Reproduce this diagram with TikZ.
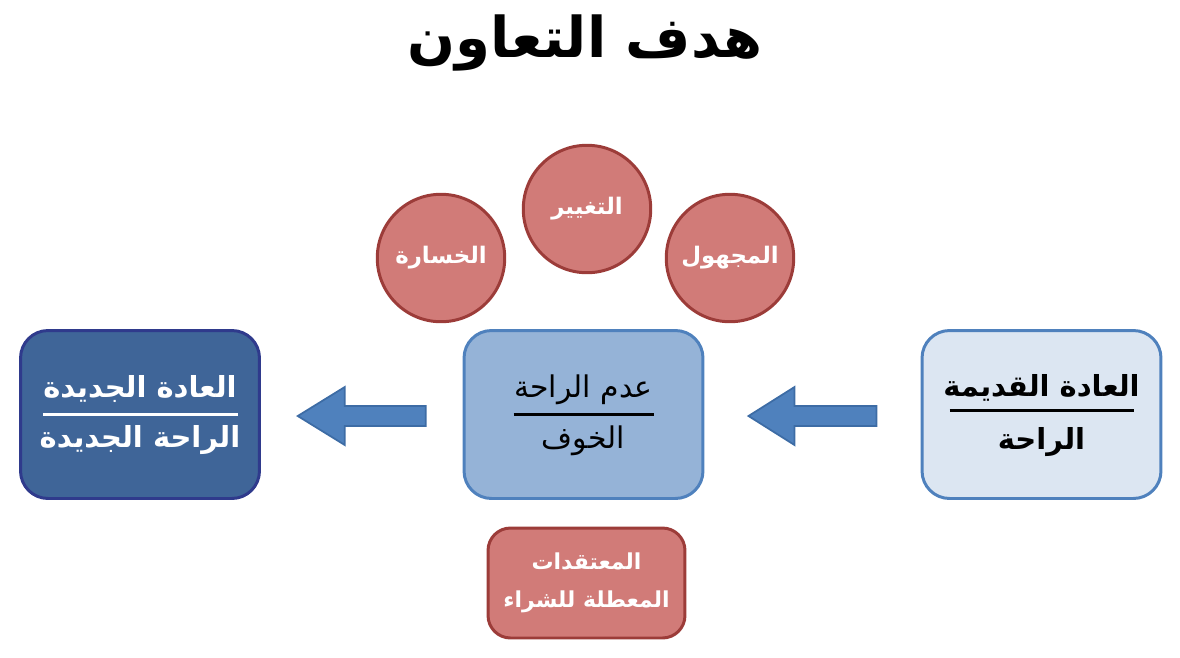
\documentclass[tikz,border=0pt]{standalone}
\usepackage{fontspec}
\newfontfamily\arabicfont[Script=Arabic]{DejaVu Sans}
\TeXXeTstate=1
\usetikzlibrary{calc,positioning}

\definecolor{fearfill}{HTML}{D17B78}
\definecolor{feardraw}{HTML}{9C3C39}
\definecolor{newfill}{HTML}{3F6598}
\definecolor{newdraw}{HTML}{2F3A8C}
\definecolor{midfill}{HTML}{95B3D7}
\definecolor{oldfill}{HTML}{DCE6F2}
\definecolor{bluedraw}{HTML}{4F81BD}
\definecolor{arrowfill}{HTML}{4F81BD}
\definecolor{arrowdraw}{HTML}{3D6CA5}

\tikzset{
  fear/.style={circle, draw=feardraw, fill=fearfill, line width=1.7pt,
    minimum size=2.55cm, inner sep=0pt, text=white,
    font=\arabicfont\bfseries\fontsize{13}{16}\selectfont},
  habit/.style={rounded corners=0.55cm, line width=1.7pt,
    minimum width=4.78cm, minimum height=3.36cm},
  boxtext/.style={font=\arabicfont\bfseries\fontsize{16.5}{20}\selectfont},
  blockarrow/.style={draw=arrowdraw, fill=arrowfill, line width=1pt, line join=miter},
}

\begin{document}
\begin{tikzpicture}[x=0.02cm, y=-0.02cm, line join=round]
  \useasboundingbox (0,0) rectangle (1180,657);

  \node[font=\arabicfont\bfseries\fontsize{32}{36}\selectfont] (title) at (585,43) {\beginR هدف التعاون\endR};

  % the three fears
  \node[fear] (loss) at (441,258) {\beginR الخسارة\endR};
  \node[fear] (change) at (587,209) {\beginR التغيير\endR};
  \node[fear] (unknown) at (730,258) {\beginR المجهول\endR};

  % habits
  \node[habit, draw=newdraw, fill=newfill] (new) at (140,414.5) {};
  \node[habit, draw=bluedraw, fill=midfill] (mid) at (583.5,414.5) {};
  \node[habit, draw=bluedraw, fill=oldfill] (old) at (1041.5,414.5) {};

  \node[boxtext, text=white] (newa) at ($(new)+(0,-26)$) {\beginR العادة الجديدة\endR};
  \draw[white, line width=1.2pt] ($(new)+(-97,0)$) -- ($(new)+(98,0)$);
  \node[boxtext, text=white] (newb) at ($(new)+(0,26)$) {\beginR الراحة الجديدة\endR};

  \node[boxtext, font=\arabicfont\fontsize{17}{20}\selectfont] (mida) at ($(mid)+(0,-25)$) {\beginR عدم الراحة\endR};
  \draw[line width=1.2pt] ($(mid)+(-70,0)$) -- ($(mid)+(70,0)$);
  \node[boxtext, font=\arabicfont\fontsize{17}{20}\selectfont] (midb) at ($(mid)+(0,26)$) {\beginR الخوف\endR};

  \node[boxtext] (olda) at ($(old)+(0,-27)$) {\beginR العادة القديمة\endR};
  \draw[line width=1.2pt] ($(old)+(-92,-4)$) -- ($(old)+(92,-4)$);
  \node[boxtext] (oldb) at ($(old)+(0,28)$) {\beginR الراحة\endR};

  % beliefs
  \node[draw=feardraw, fill=fearfill, line width=1.7pt, rounded corners=0.45cm,
    minimum width=3.94cm, minimum height=2.2cm, align=center, text=white,
    font=\arabicfont\bfseries\fontsize{12.5}{21.5}\selectfont] (belief) at (586.5,583)
    {\beginR المعتقدات\endR\\\beginR المعطلة للشراء\endR};

  % arrows
  \coordinate (a1) at ($(new.east)!0.5!(mid.west)+(0,1.5)$);
  \coordinate (a2) at ($(mid.east)!0.5!(old.west)+(0,1.5)$);
  \draw[blockarrow, shift={(a1)}] (64,-10) -- (-17,-10) -- (-17,-29) -- (-64,0)
    -- (-17,29) -- (-17,10) -- (64,10) -- cycle;
  \draw[blockarrow, shift={(a2)}] (64,-10) -- (-18,-10) -- (-18,-29) -- (-64,0)
    -- (-18,29) -- (-18,10) -- (64,10) -- cycle;
\end{tikzpicture}
\end{document}
